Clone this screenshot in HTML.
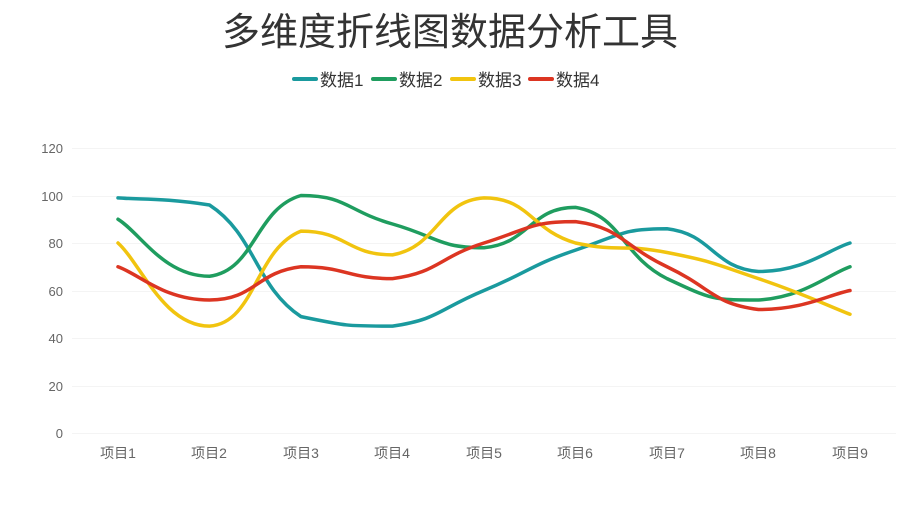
<!DOCTYPE html>
<html><head><meta charset="utf-8"><style>
body{margin:0;background:#fff;width:900px;height:506px;overflow:hidden}
svg text{font-family:"Liberation Sans","Noto Sans CJK SC",sans-serif}
</style></head><body>
<svg id="s" width="900" height="506" xmlns="http://www.w3.org/2000/svg">
<text x="450" y="45" font-size="38" fill="#333" text-anchor="middle">多维度折线图数据分析工具</text>
<g font-size="17" fill="#333">
<line x1="294" y1="79" x2="316" y2="79" stroke="#1a9a9e" stroke-width="4" stroke-linecap="round"/><text x="320" y="86">数据1</text>
<line x1="373" y1="79" x2="395" y2="79" stroke="#1f9d5f" stroke-width="4" stroke-linecap="round"/><text x="399" y="86">数据2</text>
<line x1="452" y1="79" x2="474" y2="79" stroke="#f1c40f" stroke-width="4" stroke-linecap="round"/><text x="478" y="86">数据3</text>
<line x1="530" y1="79" x2="552" y2="79" stroke="#dc3522" stroke-width="4" stroke-linecap="round"/><text x="556" y="86">数据4</text>
</g>
<g stroke="#f4f4f4" stroke-width="1">
<line x1="72" x2="896" y1="148.5" y2="148.5"/><line x1="72" x2="896" y1="196.5" y2="196.5"/>
<line x1="72" x2="896" y1="243.5" y2="243.5"/><line x1="72" x2="896" y1="291.5" y2="291.5"/>
<line x1="72" x2="896" y1="338.5" y2="338.5"/><line x1="72" x2="896" y1="386.5" y2="386.5"/>
<line x1="72" x2="896" y1="433.5" y2="433.5"/>
</g>
<g font-size="13" fill="#666" text-anchor="end">
<text x="63" y="153">120</text><text x="63" y="201">100</text><text x="63" y="248">80</text>
<text x="63" y="296">60</text><text x="63" y="343">40</text><text x="63" y="391">20</text><text x="63" y="438">0</text>
</g>
<g font-size="14" fill="#666" text-anchor="middle">
<text x="118" y="458">项目1</text><text x="209" y="458">项目2</text><text x="301" y="458">项目3</text>
<text x="392" y="458">项目4</text><text x="484" y="458">项目5</text><text x="575" y="458">项目6</text>
<text x="667" y="458">项目7</text><text x="758" y="458">项目8</text><text x="850" y="458">项目9</text>
</g>
<g id="lines" fill="none" stroke-width="3.5" stroke-linecap="round"></g>
</svg>
<script>
var data=[["#1a9a9e",[99,96,49,45,60,77,86,68,80]],["#1f9d5f",[90,66,100,88,78,95,65,56,70]],["#f1c40f",[80,45,85,75,99,80,76,65,50]],["#dc3522",[70,56,70,65,80,89,70,52,60]]];
var g=document.getElementById("lines");
function cl(v,a,b){var lo=Math.min(a,b),hi=Math.max(a,b);return Math.max(lo,Math.min(hi,v));}
data.forEach(function(d){
 var p=d[1].map(function(v,i){return [118+i*91.5,433-v*2.375]});
 var s="M"+p[0][0]+","+p[0][1];
 for(var i=0;i<p.length-1;i++){
  var p0=p[i-1]||p[i],p1=p[i],p2=p[i+1],p3=p[i+2]||p[i+1],k=0.25;
  var c1=[p1[0]+(p2[0]-p0[0])*k,cl(p1[1]+(p2[1]-p0[1])*k,p1[1],p2[1])];
  var c2=[p2[0]-(p3[0]-p1[0])*k,cl(p2[1]-(p3[1]-p1[1])*k,p1[1],p2[1])];
  s+=" C"+c1+" "+c2+" "+p2;
 }
 var e=document.createElementNS("http://www.w3.org/2000/svg","path");
 e.setAttribute("d",s);e.setAttribute("stroke",d[0]);g.appendChild(e);
});
</script>
</body></html>
